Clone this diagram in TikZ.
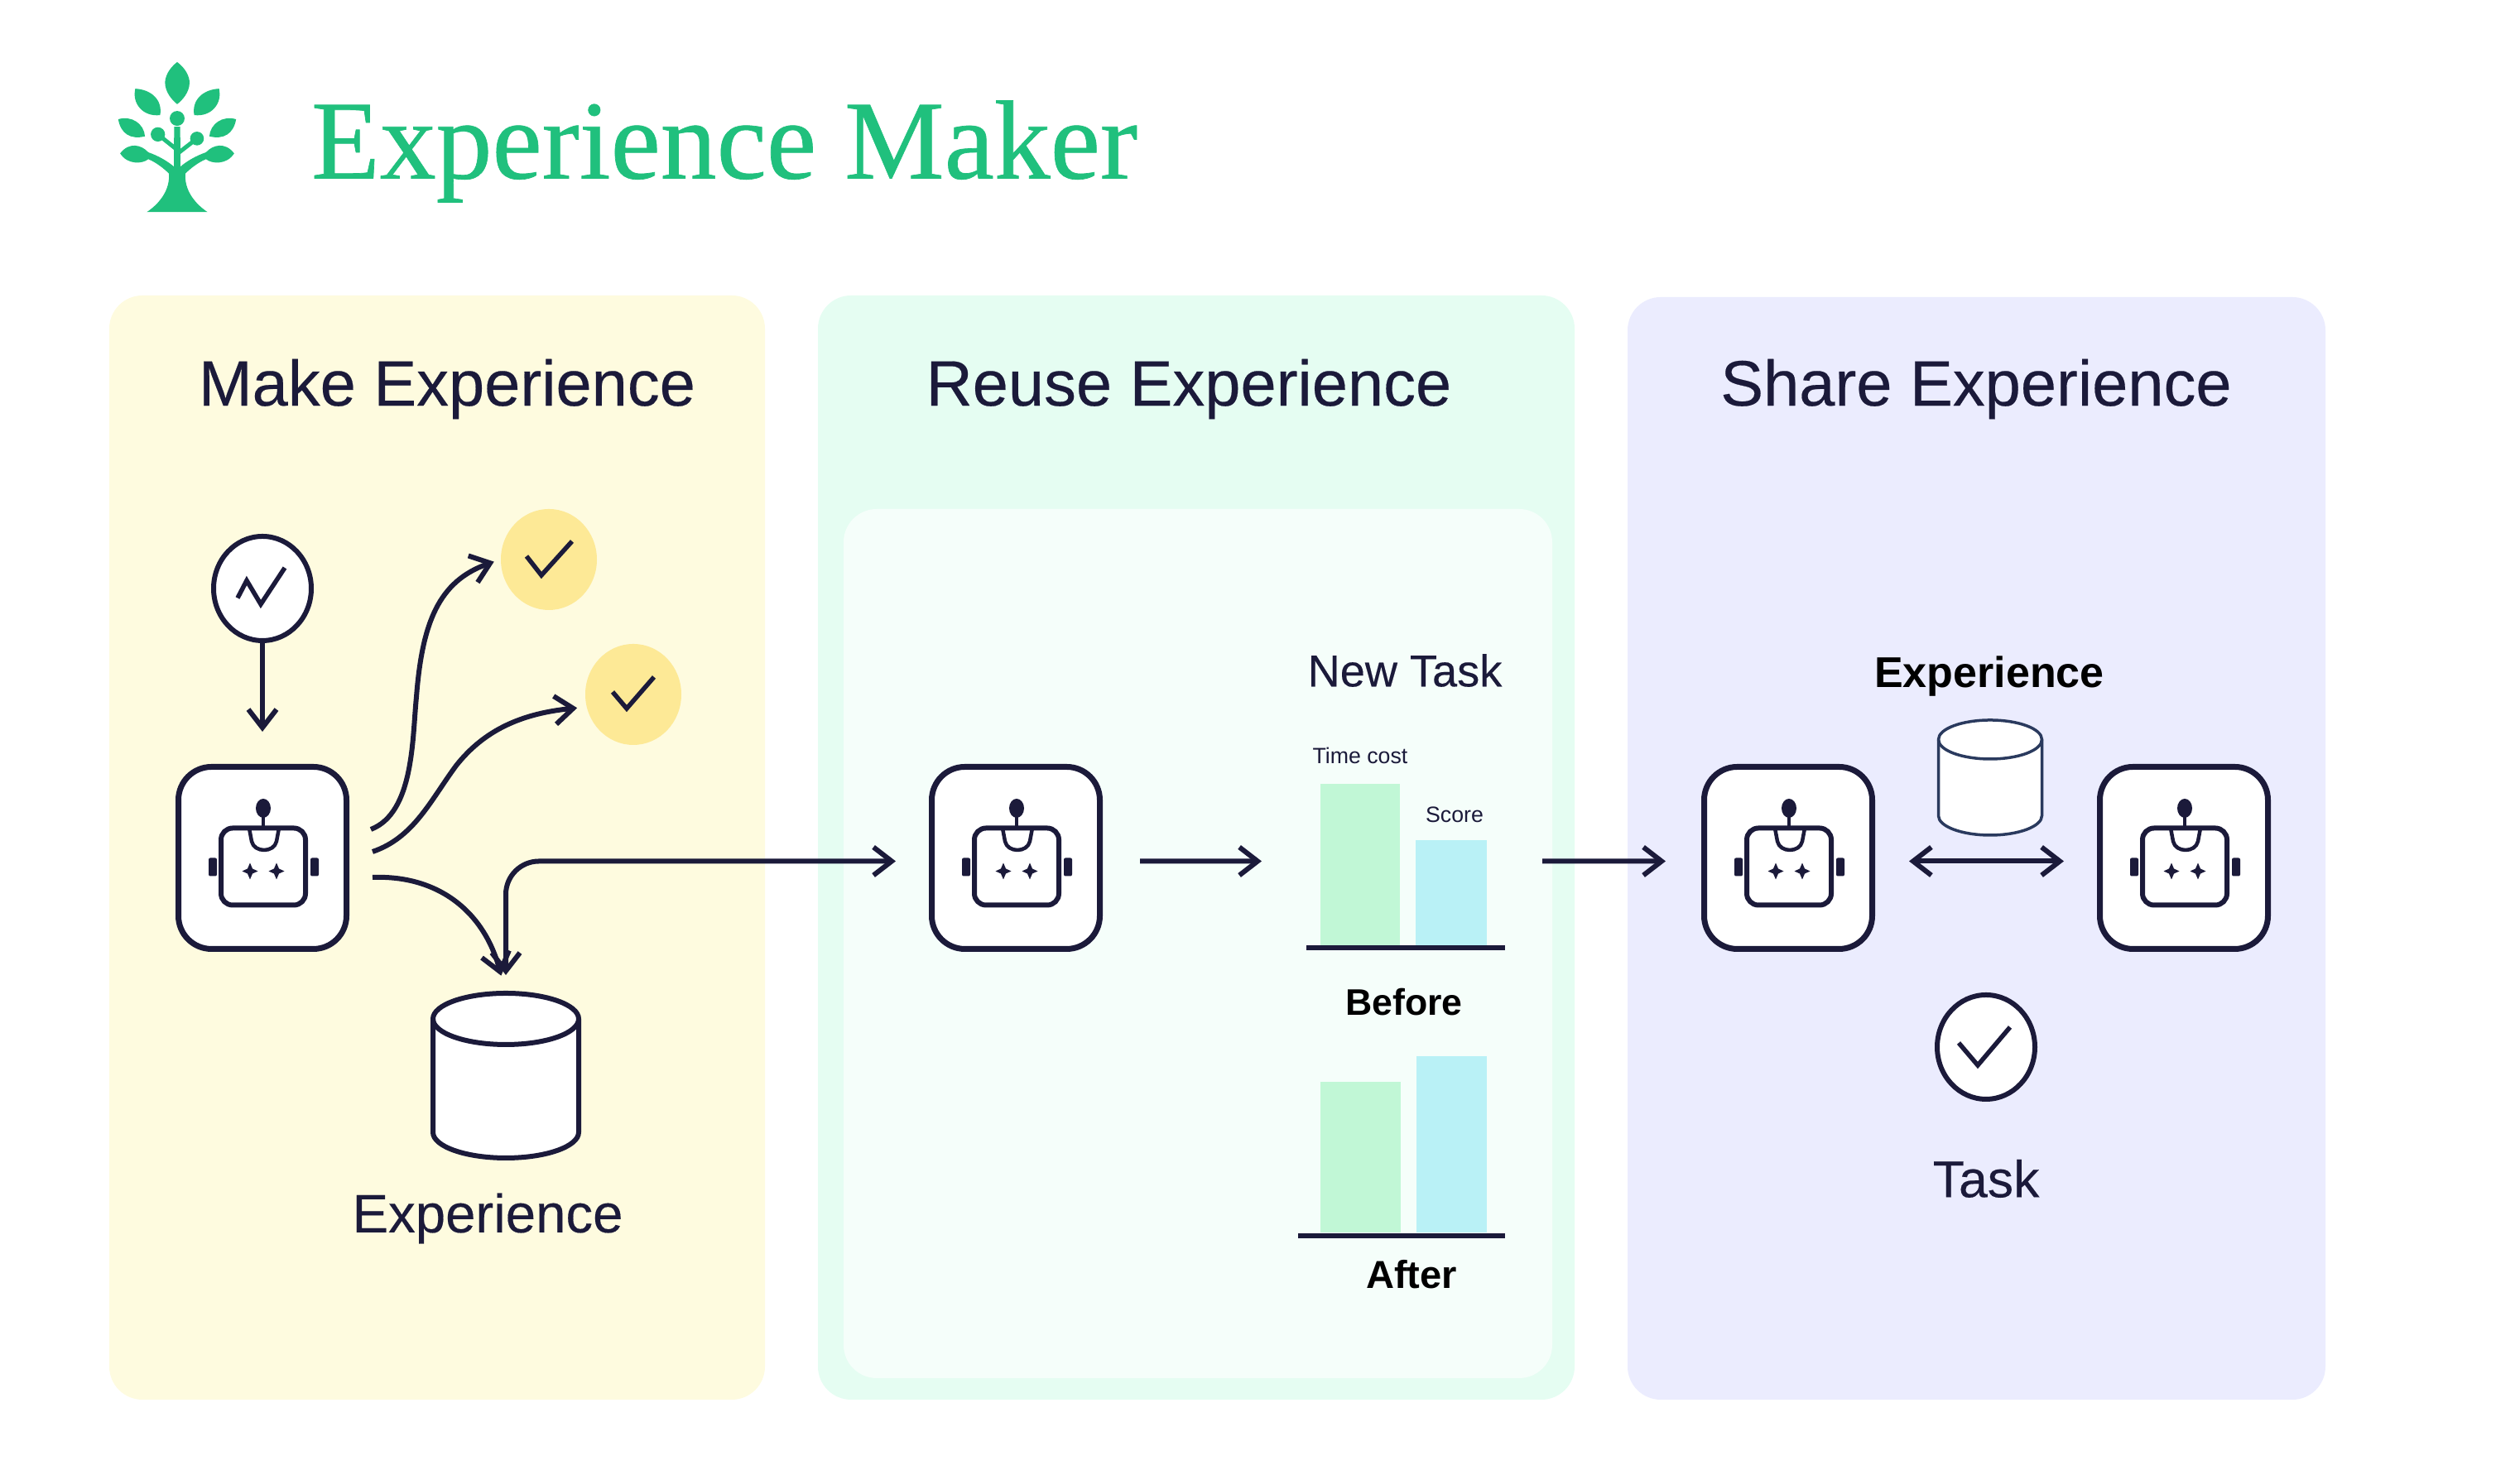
\documentclass[tikz,border=0pt]{standalone}
\usepackage{fontspec}
\setmainfont{Liberation Sans}
\newfontfamily\titlefont[FakeBold=0.5]{Liberation Serif}
\newfontfamily\headfont[FakeBold=0.25]{Liberation Sans}
\usetikzlibrary{arrows.meta,shapes.geometric}

\definecolor{ink}{HTML}{1B1A3A}
\definecolor{leafgreen}{HTML}{20C07D}
\definecolor{panelyellow}{HTML}{FEFBDF}
\definecolor{panelgreen}{HTML}{E5FDF2}
\definecolor{innergreen}{HTML}{F5FEFA}
\definecolor{panelblue}{HTML}{EBECFE}
\definecolor{tickyellow}{HTML}{FDE996}
\definecolor{barmint}{HTML}{C1F7D6}
\definecolor{barcyan}{HTML}{B9F1F6}
\definecolor{slate}{HTML}{2A3A5E}

\begin{document}
\begin{tikzpicture}
\tikzstyle{panel}=[rounded corners=0.4cm,inner sep=0pt];
\tikzstyle{heading}=[text=ink,font=\headfont\fontsize{22.1}{26}\selectfont];
\tikzstyle{robotbox}=[draw=ink,fill=white,line width=0.07cm,rounded corners=0.4cm,minimum width=2.03cm,minimum height=2.2cm,inner sep=0pt];
\tikzstyle{flow}=[draw=ink,line width=0.06cm,-{Straight Barb[length=0.22cm,width=0.34cm]}];
\tikzstyle{twoway}=[draw=ink,line width=0.06cm,{Straight Barb[length=0.22cm,width=0.34cm]}-{Straight Barb[length=0.22cm,width=0.34cm]}];
\tikzstyle{round}=[ellipse,draw=ink,fill=white,line width=0.06cm,minimum width=1.18cm,minimum height=1.26cm,inner sep=0pt];
\tikzstyle{yellowdot}=[ellipse,fill=tickyellow,minimum width=1.16cm,minimum height=1.22cm,inner sep=0pt];
\tikzstyle{tickmark}=[draw=ink,line width=0.055cm];
\tikzstyle{storebox}=[inner sep=0pt,outer sep=0pt];
\tikzstyle{bar}=[anchor=south,inner sep=0pt,outer sep=0pt];
\tikzstyle{axis}=[draw=ink,line width=0.055cm];
\tikzstyle{small}=[text=ink,font=\fontsize{7.6}{9}\selectfont];

\useasboundingbox (0,0) rectangle (30.44,17.82);

% panels
\node [panel,fill=panelyellow,minimum width=7.92cm,minimum height=13.34cm] (make) at (5.28,7.58) {};
\node [panel,fill=panelgreen,minimum width=9.14cm,minimum height=13.34cm] (reuse) at (14.45,7.58) {};
\node [panel,fill=innergreen,minimum width=8.56cm,minimum height=10.5cm] (inner) at (14.47,6.42) {};
\node [panel,fill=panelblue,minimum width=8.43cm,minimum height=13.32cm] (share) at (23.875,7.57) {};

% title and logo
\node [text=leafgreen,font=\titlefont\fontsize{38.6}{44}\selectfont] (title) at (8.75,15.99) {Experience Maker};
\begin{scope}[shift={(2.14,17.42)},x=0.00333cm,y=-0.00333cm]
\fill [leafgreen] (0,105) .. controls (33,130) and (45,160) .. (45,180) .. controls (45,215) and (18,245) .. (0,258) .. controls (-17,245) and (-44,215) .. (-44,180) .. controls (-44,160) and (-32,130) .. (0,105);
\foreach \s in {1,-1} {
  \begin{scope}[xscale=\s]
  \fill [leafgreen] (-152,202) .. controls (-92,205) and (-52,245) .. (-62,298) .. controls (-125,305) and (-165,255) .. (-152,202);
  \fill [leafgreen] (-214,313) .. controls (-165,298) and (-120,330) .. (-117,375) .. controls (-170,388) and (-205,365) .. (-214,313);
  \fill [leafgreen] (0,650) -- (-110,650) .. controls (-65,620) and (-25,570) .. (-30,510) .. controls (-45,495) and (-75,470) .. (-105,458) .. controls (-125,475) and (-180,480) .. (-207,437) .. controls (-175,395) and (-130,405) .. (-105,433) .. controls (-70,445) and (-35,465) .. (-12,485) -- (-11,340) -- (0,340) -- cycle;
  \end{scope}
}
\fill [leafgreen] (0,310) circle [radius=27];
\fill [leafgreen] (-70,368) circle [radius=26];
\fill [leafgreen] (72,383) circle [radius=25];
\draw [leafgreen,line width=0.05cm] (-70,368) -- (-5,420);
\draw [leafgreen,line width=0.05cm] (72,383) -- (5,435);
\end{scope}

% headings
\node [heading] (makehead) at (5.40,13.12) {Make Experience};
\node [heading] (reusehead) at (14.36,13.12) {Reuse Experience};
\node [heading] (sharehead) at (23.87,13.12) {Share Experience};

% robots
\foreach \robotname/\x in {robotA/3.17,robotB/12.27,robotC/21.60,robotD/26.38} {
  \node [robotbox] (\robotname) at (\x,7.455) {};
  \begin{scope}[shift={(\x,7.455)}]
  \draw [ink,line width=0.06cm,rounded corners=0.14cm] (-0.50,0.36) rectangle (0.52,-0.57);
  \draw [ink,line width=0.045cm] (-0.16,0.36) -- (-0.13,0.2) .. controls (-0.10,0.06) and (0.14,0.06) .. (0.17,0.2) -- (0.20,0.36);
  \draw [ink,line width=0.04cm] (0.01,0.36) -- (0.01,0.53);
  \fill [ink] (0.01,0.60) ellipse [x radius=0.09,y radius=0.115];
  \fill [ink,rounded corners=0.02cm] (-0.65,0) rectangle (-0.55,-0.22);
  \fill [ink,rounded corners=0.02cm] (0.58,0) rectangle (0.68,-0.22);
  \foreach \ex in {-0.15,0.17} {
    \fill [ink] (\ex,-0.06) -- (\ex+0.03,-0.13) -- (\ex+0.095,-0.16) -- (\ex+0.03,-0.19) -- (\ex,-0.26) -- (\ex-0.03,-0.19) -- (\ex-0.095,-0.16) -- (\ex-0.03,-0.13) -- cycle;
  }
  \end{scope}
}

% make experience
\node [round] (goal) at (3.17,10.71) {};
\draw [tickmark] ([shift={(-0.30,-0.115)}]goal.center) -- ([shift={(-0.19,0.096)}]goal.center) -- ([shift={(-0.02,-0.19)}]goal.center) -- ([shift={(0.27,0.25)}]goal.center);
\node [yellowdot] (checkA) at (6.63,11.06) {};
\node [yellowdot] (checkB) at (7.65,9.43) {};
\draw [tickmark] ([shift={(-0.27,0.04)}]checkA.center) -- ([shift={(-0.09,-0.19)}]checkA.center) -- ([shift={(0.28,0.22)}]checkA.center);
\draw [tickmark] ([shift={(-0.25,0.03)}]checkB.center) -- ([shift={(-0.08,-0.17)}]checkB.center) -- ([shift={(0.25,0.21)}]checkB.center);
\node [storebox,minimum width=1.76cm,minimum height=1.99cm] (storeA) at (6.11,4.825) {};
\draw [ink,fill=white,line width=0.06cm] ([yshift=-0.31cm]storeA.north west) arc [start angle=180,end angle=0,x radius=0.88cm,y radius=0.31cm] -- ([yshift=0.31cm]storeA.south east) arc [start angle=360,end angle=180,x radius=0.88cm,y radius=0.31cm] -- cycle;
\draw [ink,line width=0.06cm] ([yshift=-0.31cm]storeA.north west) arc [start angle=180,end angle=360,x radius=0.88cm,y radius=0.31cm];
\node [text=ink,font=\headfont\fontsize{18.6}{22}\selectfont] (storelabel) at (5.89,3.10) {Experience};

\coordinate (outA) at (4.48,7.80);
\coordinate (outB) at (4.50,7.53);
\coordinate (outC) at (4.50,7.22);

\draw [flow,shorten >=0.39cm] (goal) -- (robotA);
\draw [flow,shorten >=0.08cm] (outA) .. controls (5.0,8.0) and (4.98,8.9) .. (5.03,9.4) .. controls (5.1,10.3) and (5.3,10.8) .. (checkA.west);
\draw [flow,shorten >=0.11cm] (outB) .. controls (5.0,7.7) and (5.2,8.15) .. (5.51,8.57) .. controls (5.85,9.0) and (6.3,9.2) .. (checkB.195);
\draw [flow,shorten >=0.22cm] (outC) .. controls (5.3,7.25) and (5.85,6.8) .. (storeA.north);
\draw [twoway,rounded corners=0.4cm,shorten <=0.22cm,shorten >=0.4cm] (storeA.north) |- ([yshift=-0.04cm]robotB.west);

% reuse experience
\coordinate (chartin) at (15.24,7.415);
\coordinate (chartout) at (18.63,7.415);
\draw [flow,shorten <=0.45cm] ([yshift=-0.04cm]robotB.east) -- (chartin);
\draw [flow,shorten >=0.43cm] (chartout) -- ([yshift=-0.04cm]robotC.west);

\node [text=ink,font=\headfont\fontsize{15.4}{18}\selectfont] (newtask) at (16.97,9.72) {New Task};
\node [bar,fill=barmint,minimum width=0.96cm,minimum height=1.95cm] (beforetime) at (16.43,6.40) {};
\node [bar,fill=barcyan,minimum width=0.86cm,minimum height=1.27cm] (beforescore) at (17.53,6.40) {};
\node [small] (timelabel) at (16.43,8.69) {Time cost};
\node [small] (scorelabel) at (17.57,7.98) {Score};
\draw [axis] (15.78,6.37) -- (18.18,6.37);
\node [font=\bfseries\fontsize{12.7}{15}\selectfont] (before) at (16.96,5.71) {Before};
\node [bar,fill=barmint,minimum width=0.97cm,minimum height=1.82cm] (aftertime) at (16.43,2.93) {};
\node [bar,fill=barcyan,minimum width=0.85cm,minimum height=2.13cm] (afterscore) at (17.53,2.93) {};
\draw [axis] (15.68,2.89) -- (18.18,2.89);
\node [font=\bfseries\fontsize{13.4}{15}\selectfont] (after) at (17.05,2.42) {After};

% share experience
\node [font=\bfseries\fontsize{14.8}{18}\selectfont] (sharedlabel) at (24.03,9.65) {Experience};
\node [storebox,minimum width=1.25cm,minimum height=1.39cm] (storeB) at (24.04,8.425) {};
\draw [slate,fill=white,line width=0.035cm] ([yshift=-0.235cm]storeB.north west) arc [start angle=180,end angle=0,x radius=0.625cm,y radius=0.235cm] -- ([yshift=0.235cm]storeB.south east) arc [start angle=360,end angle=180,x radius=0.625cm,y radius=0.235cm] -- cycle;
\draw [slate,line width=0.035cm] ([yshift=-0.235cm]storeB.north west) arc [start angle=180,end angle=360,x radius=0.625cm,y radius=0.235cm];
\draw [twoway,shorten <=0.41cm,shorten >=0.4cm] ([yshift=-0.04cm]robotC.east) -- ([yshift=-0.04cm]robotD.west);
\node [round] (taskdone) at (23.99,5.17) {};
\draw [tickmark] ([shift={(-0.33,0.05)}]taskdone.center) -- ([shift={(-0.10,-0.22)}]taskdone.center) -- ([shift={(0.29,0.24)}]taskdone.center);
\node [text=ink,font=\headfont\fontsize{17.8}{20}\selectfont] (tasklabel) at (23.99,3.58) {Task};
\end{tikzpicture}
\end{document}
